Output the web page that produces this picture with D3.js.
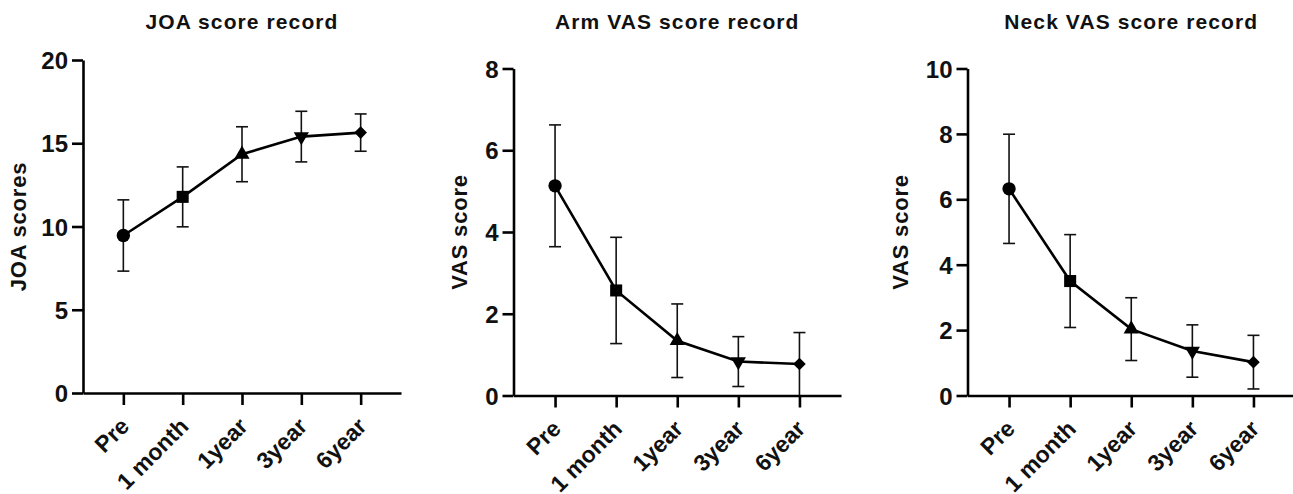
<!DOCTYPE html>
<html lang="en">
<head>
<meta charset="UTF-8">
<title>Score records</title>
<script src="https://d3js.org/d3.v7.min.js"></script>
<style>
    body { margin: 0; background: #fff; }
    svg { display: block; font-family: "Liberation Sans", Arial, sans-serif; }
</style>
</head>
<body>
<div id="chart"></div>
<script>
    // data (mean and SD per time point)
    const timepoints = ["Pre", "1 month", "1year", "3year", "6year"];

    const joaMean = [9.46, 11.78, 14.34, 15.4, 15.64];
    const joaSD = [2.14, 1.8, 1.65, 1.52, 1.12];
    const joaTicks = [0, 5, 10, 15, 20];

    const armMean = [5.13, 2.57, 1.34, 0.83, 0.77];
    const armSD = [1.49, 1.3, 0.9, 0.61, 0.77];
    const armTicks = [0, 2, 4, 6, 8];

    const neckMean = [6.32, 3.5, 2.03, 1.36, 1.02];
    const neckSD = [1.67, 1.42, 0.96, 0.8, 0.82];
    const neckTicks = [0, 2, 4, 6, 8, 10];

    const W = 1293, H = 494;

    const svg = d3.select("#chart").append("svg")
        .attr("width", W)
        .attr("height", H);

    // one symbol per time point
    const shapes = [
        { type: d3.symbolCircle, size: 140, rot: 0 },
        { type: d3.symbolSquare, size: 145, rot: 0 },
        { type: d3.symbolTriangle, size: 100, rot: 0 },
        { type: d3.symbolTriangle, size: 100, rot: 180 },
        { type: d3.symbolSquare, size: 80, rot: 45 }
    ];

    const panels = [
        { title: "JOA score record", ylab: "JOA scores", mean: joaMean, sd: joaSD, ticks: joaTicks,
          x0: 83, x1: 401, yTop: 60, yBot: 393, labX: 18 },
        { title: "Arm VAS score record", ylab: "VAS score", mean: armMean, sd: armSD, ticks: armTicks,
          x0: 513.5, x1: 841, yTop: 68.5, yBot: 395.5, labX: 459.5 },
        { title: "Neck VAS score record", ylab: "VAS score", mean: neckMean, sd: neckSD, ticks: neckTicks,
          x0: 967.5, x1: 1295, yTop: 68.5, yBot: 395.5, labX: 900 }
    ];

    panels.forEach(p => drawPanel(p));

    function drawPanel(p) {
        const g = svg.append("g");

        const x = d3.scalePoint()
            .domain(timepoints)
            .range([p.x0, p.x1])
            .padding(0.68);

        const y = d3.scaleLinear()
            .domain([0, d3.max(p.ticks)])
            .range([p.yBot, p.yTop]);

        // y axis
        const ya = g.append("g")
            .attr("transform", `translate(${p.x0},0)`)
            .call(d3.axisLeft(y).tickValues(p.ticks).tickSize(11).tickSizeOuter(0).tickPadding(4));

        // x axis
        const xa = g.append("g")
            .attr("transform", `translate(0,${p.yBot})`)
            .call(d3.axisBottom(x).tickSize(12).tickSizeOuter(0));

        [ya, xa].forEach(a => {
            a.select(".domain").attr("stroke", "#000").attr("stroke-width", 2.6);
            a.selectAll(".tick line").attr("stroke", "#000").attr("stroke-width", 2.6);
        });

        ya.selectAll(".tick text")
            .attr("font-size", 24)
            .attr("font-weight", "bold")
            .attr("fill", "#111")
            .attr("dy", "0.36em");

        xa.selectAll(".tick text")
            .attr("font-size", 23)
            .attr("font-weight", "bold")
            .attr("fill", "#111")
            .attr("text-anchor", "end")
            .attr("y", 0)
            .attr("dy", "0.35em")
            .attr("transform", "translate(1,29) rotate(-45)");

        // title
        g.append("text")
            .attr("x", (p.x0 + Math.min(p.x1, W)) / 2 + (p.x1 > W ? 1 : 0))
            .attr("y", 29)
            .attr("text-anchor", "middle")
            .attr("font-size", 21)
            .attr("font-weight", "bold")
            .attr("letter-spacing", 1.1)
            .attr("fill", "#111")
            .text(p.title);

        // y label
        g.append("text")
            .attr("transform", `translate(${p.labX},${(p.yTop + p.yBot) / 2}) rotate(-90)`)
            .attr("text-anchor", "middle")
            .attr("dy", "0.35em")
            .attr("font-size", 22)
            .attr("font-weight", "bold")
            .attr("letter-spacing", 0.8)
            .attr("fill", "#111")
            .text(p.ylab);

        const pts = timepoints.map((t, i) => ({ t, i, m: p.mean[i], s: p.sd[i] }));

        // error bars
        const eb = g.append("g").attr("stroke", "#111").attr("stroke-width", 1.6);
        pts.forEach(d => {
            const lo = Math.max(0, d.m - d.s), hi = d.m + d.s;
            eb.append("line")
                .attr("x1", x(d.t)).attr("x2", x(d.t))
                .attr("y1", y(lo)).attr("y2", y(hi));
            eb.append("line")
                .attr("x1", x(d.t) - 6).attr("x2", x(d.t) + 6)
                .attr("y1", y(hi)).attr("y2", y(hi));
            if (lo > 0) {
                eb.append("line")
                    .attr("x1", x(d.t) - 6).attr("x2", x(d.t) + 6)
                    .attr("y1", y(lo)).attr("y2", y(lo));
            }
        });

        // mean line
        g.append("path")
            .datum(pts)
            .attr("fill", "none")
            .attr("stroke", "#000")
            .attr("stroke-width", 2.6)
            .attr("d", d3.line().x(d => x(d.t)).y(d => y(d.m)));

        // markers
        g.selectAll("path.marker")
            .data(pts)
            .join("path")
            .attr("class", "marker")
            .attr("fill", "#000")
            .attr("transform", d => `translate(${x(d.t)},${y(d.m)}) rotate(${shapes[d.i].rot})`)
            .attr("d", d => d3.symbol().type(shapes[d.i].type).size(shapes[d.i].size)());
    }
</script>
</body>
</html>
